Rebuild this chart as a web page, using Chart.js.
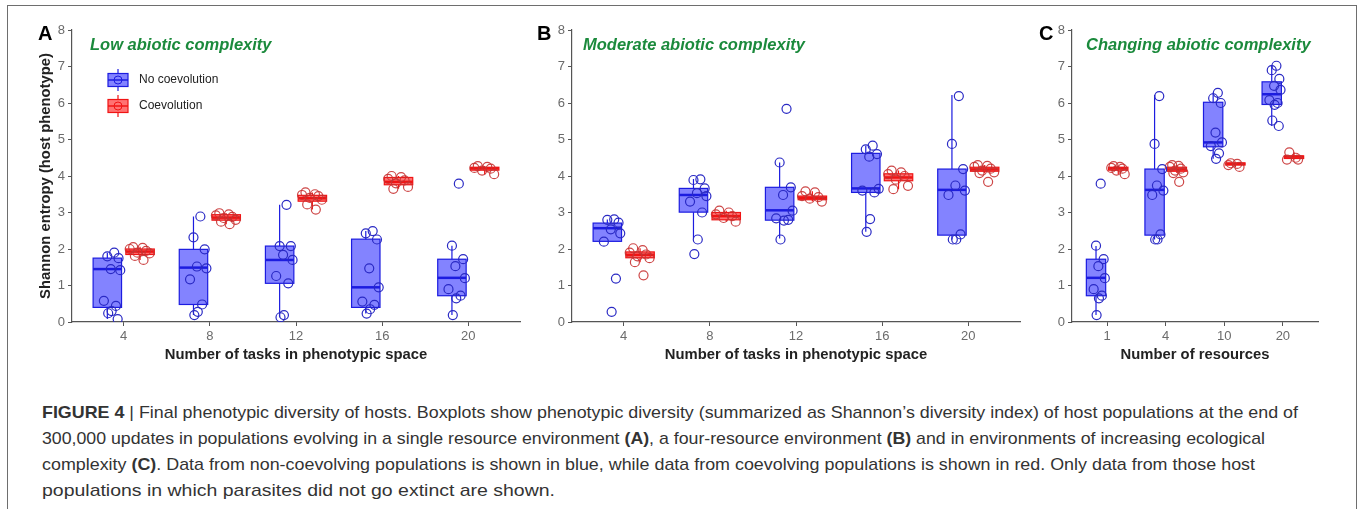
<!DOCTYPE html>
<html>
<head>
<meta charset="utf-8">
<script src="https://cdn.jsdelivr.net/npm/chart.js@4.4.1/dist/chart.umd.min.js"></script>
<style>
  body { margin: 0; width: 1360px; height: 509px; background: #fff; position: relative; overflow: hidden;
         font-family: "Liberation Sans", Arial, sans-serif; }
  #frame { position: absolute; left: 7px; top: 5px; width: 1350px; height: 540px; border: 1.5px solid #6e6e6e; box-sizing: border-box; }
  .panel { position: absolute; top: 0; }
  .letter { position: absolute; font-weight: bold; font-size: 20px; line-height: 20px; color: #000; }
  .ptitle { position: absolute; font-weight: bold; font-style: italic; font-size: 16.5px; line-height: 18px; color: #1b8a3c; white-space: nowrap; }
  .cap { position: absolute; left: 42px; white-space: nowrap; font-size: 17px; line-height: 20px; color: #333;
         font-family: "Liberation Sans Narrow", "Liberation Sans", Arial, sans-serif; transform-origin: 0 50%; }
</style>
</head>
<body>
<div id="frame"></div>

<div class="panel" style="left:32px"><canvas id="chartA" width="498" height="368"></canvas></div>
<div class="panel" style="left:532px"><canvas id="chartB" width="498" height="368"></canvas></div>
<div class="panel" style="left:1032px"><canvas id="chartC" width="296" height="368"></canvas></div>

<div class="letter" style="left:38px;top:23px">A</div>
<div class="letter" style="left:537px;top:23px">B</div>
<div class="letter" style="left:1039px;top:23px">C</div>
<div class="ptitle" style="left:90px;top:35px">Low abiotic complexity</div>
<div class="ptitle" style="left:583px;top:35px">Moderate abiotic complexity</div>
<div class="ptitle" style="left:1086px;top:35px">Changing abiotic complexity</div>

<div class="cap" style="top:403px"><b>FIGURE 4</b> | Final phenotypic diversity of hosts. Boxplots show phenotypic diversity (summarized as Shannon’s diversity index) of host populations at the end of</div>
<div class="cap" style="top:429px">300,000 updates in populations evolving in a single resource environment <b>(A)</b>, a four-resource environment <b>(B)</b> and in environments of increasing ecological</div>
<div class="cap" style="top:455px">complexity <b>(C)</b>. Data from non-coevolving populations is shown in blue, while data from coevolving populations is shown in red. Only data from those host</div>
<div class="cap" style="top:481px">populations in which parasites did not go extinct are shown.</div>

<script>
// categories
const TASKS = ['4', '8', '12', '16', '20'];
const RESOURCES = ['1', '4', '10', '20'];
const SERIES = ['No coevolution', 'Coevolution'];

// box stats per group: [lower whisker, q1, median, q3, upper whisker]
const A_BLUE_BOX = [[0.08, 0.40, 1.45, 1.75, 1.90], [0.19, 0.48, 1.49, 1.99, 2.89], [0.13, 1.06, 1.70, 2.08, 3.21],
                    [0.23, 0.40, 0.95, 2.27, 2.49], [0.19, 0.72, 1.21, 1.72, 2.09]];
const A_RED_BOX = [[1.70, 1.85, 1.93, 2.00, 2.06], [2.68, 2.79, 2.86, 2.94, 2.98], [3.08, 3.31, 3.39, 3.47, 3.55],
                   [3.65, 3.76, 3.84, 3.96, 4.00], [4.05, 4.16, 4.21, 4.24, 4.27]];
const B_BLUE_BOX = [[2.20, 2.21, 2.57, 2.71, 2.81], [2.29, 3.01, 3.48, 3.66, 3.92], [2.29, 2.79, 3.06, 3.69, 4.37],
                    [2.47, 3.55, 3.66, 4.62, 4.83], [2.26, 2.38, 3.62, 4.19, 6.22]];
const B_RED_BOX = [[1.64, 1.76, 1.84, 1.92, 2.02], [2.75, 2.80, 2.90, 3.00, 3.05], [3.30, 3.35, 3.40, 3.45, 3.58],
                   [3.64, 3.87, 3.96, 4.06, 4.15], [4.08, 4.13, 4.18, 4.24, 4.30]];
const C_BLUE_BOX = [[0.19, 0.72, 1.21, 1.72, 2.08], [2.26, 2.38, 3.62, 4.19, 6.22], [4.47, 4.80, 4.92, 6.02, 6.28],
                    [5.37, 5.96, 6.24, 6.58, 7.02]];
const C_RED_BOX = [[4.05, 4.16, 4.21, 4.24, 4.27], [4.08, 4.13, 4.18, 4.24, 4.30], [4.25, 4.30, 4.33, 4.36, 4.37],
                   [4.45, 4.48, 4.53, 4.55, 4.65]];

// individual populations (Shannon entropy)
const A_BLUE_PTS = [[1.90, 1.80, 1.75, 1.45, 1.42, 0.58, 0.44, 0.30, 0.24, 0.08],
                    [2.89, 2.32, 1.99, 1.52, 1.47, 1.17, 0.48, 0.28, 0.19],
                    [3.21, 2.08, 2.08, 1.84, 1.70, 1.26, 1.06, 0.19, 0.13],
                    [2.49, 2.43, 2.26, 1.47, 0.95, 0.56, 0.47, 0.35, 0.23],
                    [3.79, 2.09, 1.72, 1.53, 1.20, 0.90, 0.72, 0.65, 0.19]];
const A_RED_PTS = [[2.05, 2.03, 2.00, 1.95, 1.90, 1.88, 1.81, 1.70],
                   [2.98, 2.95, 2.92, 2.88, 2.85, 2.80, 2.75, 2.68],
                   [3.55, 3.50, 3.48, 3.45, 3.40, 3.35, 3.22, 3.08],
                   [4.00, 3.97, 3.92, 3.88, 3.80, 3.70, 3.65],
                   [4.27, 4.25, 4.22, 4.20, 4.15, 4.05]];
const B_BLUE_PTS = [[2.81, 2.80, 2.72, 2.54, 2.43, 2.20, 1.19, 0.28],
                    [3.91, 3.89, 3.66, 3.53, 3.45, 3.30, 3.00, 2.26, 1.86],
                    [5.84, 4.37, 3.69, 3.48, 3.05, 2.84, 2.80, 2.78, 2.26],
                    [4.83, 4.73, 4.60, 4.53, 3.65, 3.60, 3.55, 2.82, 2.47],
                    [6.19, 4.88, 4.19, 3.74, 3.60, 3.48, 2.40, 2.26, 2.26]];
const B_RED_PTS = [[2.02, 1.97, 1.90, 1.85, 1.80, 1.75, 1.64, 1.28],
                   [3.05, 3.00, 2.95, 2.90, 2.85, 2.75],
                   [3.58, 3.55, 3.45, 3.42, 3.38, 3.30],
                   [4.15, 4.10, 4.05, 4.00, 3.90, 3.73, 3.64],
                   [4.30, 4.28, 4.25, 4.20, 4.15, 4.10, 4.08, 3.84]];
const C_BLUE_PTS = [[3.79, 2.09, 1.72, 1.53, 1.20, 0.90, 0.72, 0.65, 0.19],
                    [6.19, 4.88, 4.19, 3.74, 3.60, 3.48, 2.40, 2.26, 2.26],
                    [6.28, 6.13, 6.00, 5.19, 4.92, 4.82, 4.62, 4.47],
                    [7.02, 6.90, 6.66, 6.47, 6.36, 6.08, 6.00, 5.95, 5.52, 5.37]];
const C_RED_PTS = [[4.27, 4.25, 4.22, 4.20, 4.15, 4.05],
                   [4.30, 4.28, 4.25, 4.20, 4.15, 4.10, 4.08, 3.84],
                   [4.35, 4.33, 4.30, 4.25],
                   [4.65, 4.50, 4.45, 4.45]];

// dodge / jitter layout (in category units)
const BLUE_JITTER = [0.08, 0.0, 0.13, 0.04, 0.15, -0.04, 0.10, 0.05, 0.01, 0.12];
const RED_JITTER = [-0.08, 0.03, -0.12, 0.07, -0.03, 0.11, -0.06, 0.04];
const HALF = 0.165;
const STYLE = [
  { off: -0.19, fill: 'rgba(30,30,255,0.55)', line: '#1c1ce0', pt: '#2a2ac4', jit: BLUE_JITTER },
  { off: 0.19, fill: 'rgba(255,20,20,0.6)', line: '#f01414', pt: 'rgba(200,50,50,0.9)', jit: RED_JITTER }
];

Chart.defaults.font.family = "'Liberation Sans', Arial, sans-serif";

function drawBox(ctx, st, x0, x1, xm, p, lw) {
  ctx.strokeStyle = st.line;
  ctx.lineWidth = 1.2;
  ctx.beginPath();
  ctx.moveTo(xm, p[0]); ctx.lineTo(xm, p[1]);
  ctx.moveTo(xm, p[3]); ctx.lineTo(xm, p[4]);
  ctx.stroke();
  ctx.fillStyle = st.fill;
  ctx.fillRect(x0, p[3], x1 - x0, p[1] - p[3]);
  ctx.strokeRect(x0, p[3], x1 - x0, p[1] - p[3]);
  ctx.lineWidth = lw;
  ctx.beginPath();
  ctx.moveTo(x0, p[2]); ctx.lineTo(x1, p[2]);
  ctx.stroke();
}

const boxPlugin = {
  id: 'boxes',
  beforeDatasetsDraw(chart) {
    const { ctx, scales: { x, y } } = chart;
    chart.options.plugins.boxes.stats.forEach((groups, s) => {
      const st = STYLE[s];
      groups.forEach((b, g) => {
        const xc = g + 1 + st.off;
        ctx.save();
        drawBox(ctx, st, x.getPixelForValue(xc - HALF), x.getPixelForValue(xc + HALF),
                x.getPixelForValue(xc), b.map(v => y.getPixelForValue(v)), 2.5);
        ctx.restore();
      });
    });
  }
};

const legendPlugin = {
  id: 'boxLegend',
  afterDraw(chart) {
    if (!chart.options.plugins.boxLegend.show) return;
    const { ctx, chartArea: { left, top } } = chart;
    SERIES.forEach((name, s) => {
      const cy = top + 50 + s * 26;
      const x0 = left + 36, x1 = left + 56, xm = left + 46;
      ctx.save();
      drawBox(ctx, STYLE[s], x0, x1, xm, [cy + 11, cy + 6.5, cy, cy - 6.5, cy - 11], 1.5);
      ctx.strokeStyle = STYLE[s].line;
      ctx.lineWidth = 1;
      ctx.beginPath(); ctx.arc(xm, cy, 4, 0, Math.PI * 2); ctx.stroke();
      ctx.fillStyle = '#222';
      ctx.font = "12px 'Liberation Sans', Arial, sans-serif";
      ctx.textBaseline = 'middle';
      ctx.fillText(name, left + 67, cy);
      ctx.restore();
    });
  }
};

function makePanel(id, cats, boxes, points, xTitle, yTitle, showLegend) {
  const datasets = points.map((groups, s) => ({
    type: 'scatter',
    label: SERIES[s],
    data: groups.flatMap((vals, g) => vals.map((v, k) => ({
      x: g + 1 + STYLE[s].off + STYLE[s].jit[k % STYLE[s].jit.length], y: v }))),
    pointRadius: 4.5,
    pointHoverRadius: 4.5,
    pointBorderWidth: 1.2,
    pointBackgroundColor: 'rgba(0,0,0,0)',
    pointBorderColor: STYLE[s].pt
  }));

  new Chart(document.getElementById(id), {
    type: 'scatter',
    data: { datasets: datasets },
    plugins: [boxPlugin, legendPlugin],
    options: {
      responsive: false,
      animation: false,
      layout: { padding: { top: 30, right: 10, left: 0, bottom: 0 } },
      plugins: {
        legend: { display: false },
        tooltip: { enabled: false },
        boxes: { stats: boxes },
        boxLegend: { show: showLegend }
      },
      scales: {
        x: {
          type: 'linear',
          min: 0.4,
          max: cats.length + 0.6,
          afterBuildTicks: sc => { sc.ticks = cats.map((c, i) => ({ value: i + 1 })); },
          afterFit: sc => { sc.height = 46; },
          ticks: { callback: v => cats[v - 1], color: '#6b6b6b', font: { size: 13 }, padding: 3, maxRotation: 0 },
          grid: { drawOnChartArea: false, tickLength: 4, color: '#555' },
          border: { color: '#555', width: 1.2 },
          title: { display: true, text: xTitle, color: '#222', font: { size: 14.8, weight: 'bold' }, padding: { top: 2, bottom: 4 } }
        },
        y: {
          min: 0,
          max: 8,
          afterFit: sc => { sc.width = 40; },
          ticks: { stepSize: 1, color: '#6b6b6b', font: { size: 13 }, padding: 3 },
          grid: { drawOnChartArea: false, tickLength: 4, color: '#555' },
          border: { color: '#555', width: 1.2 },
          title: { display: !!yTitle, text: yTitle, color: '#222', font: { size: 14.8, weight: 'bold' }, padding: { top: 5, bottom: 4 } }
        }
      }
    }
  });
}

makePanel('chartA', TASKS, [A_BLUE_BOX, A_RED_BOX], [A_BLUE_PTS, A_RED_PTS],
          'Number of tasks in phenotypic space', 'Shannon entropy (host phenotype)', true);
makePanel('chartB', TASKS, [B_BLUE_BOX, B_RED_BOX], [B_BLUE_PTS, B_RED_PTS],
          'Number of tasks in phenotypic space', '', false);
makePanel('chartC', RESOURCES, [C_BLUE_BOX, C_RED_BOX], [C_BLUE_PTS, C_RED_PTS],
          'Number of resources', '', false);

// fit caption lines to their width in the figure
const capWidths = [1256, 1223, 1213, 513];
document.querySelectorAll('.cap').forEach((el, i) => {
  const w = el.getBoundingClientRect().width;
  el.style.transform = 'scaleX(' + (capWidths[i] / w) + ')';
});
</script>
</body>
</html>
